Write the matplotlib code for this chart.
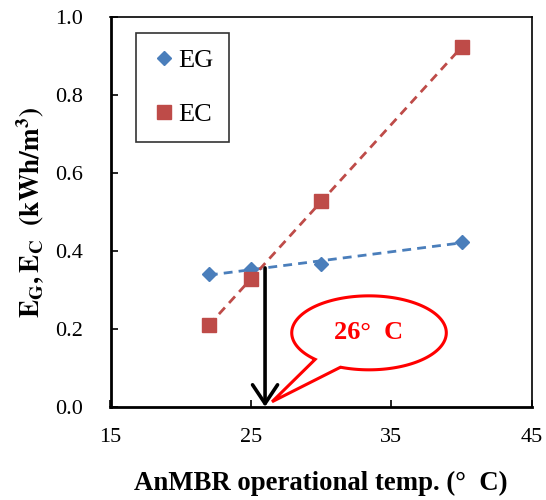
import numpy as np
import matplotlib
matplotlib.use("Agg")
import matplotlib.pyplot as plt
from matplotlib.patches import Polygon

plt.rcParams["font.family"] = ["Liberation Serif", "DejaVu Serif"]
plt.rcParams["mathtext.fontset"] = "stix"

# operating temperatures (°C) and specific energy values (kWh/m3)
temps = [22, 25, 30, 40]
eg_values = [0.34, 0.355, 0.368, 0.424]
ec_values = [0.209, 0.329, 0.528, 0.924]
crossover_temp = 26
crossover_label = "26°  C"

x_ticks = [15, 25, 35, 45]
y_ticks = [0.0, 0.2, 0.4, 0.6, 0.8, 1.0]

blue = "#4a7ebb"
red = "#be4b48"

fig = plt.figure(figsize=(5.46, 5.0), dpi=100)
ax = fig.add_axes([110.5 / 546, 1 - 406.8 / 500, (532 - 110.5) / 546, (406.8 - 17.5) / 500])

# linear trend lines over the measured range
t = np.array(temps, dtype=float)
xs = np.array([t.min(), t.max()])
for vals, col in ((eg_values, blue), (ec_values, red)):
    k, b = np.polyfit(t, vals, 1)
    ax.plot(xs, k * xs + b, ls=(0, (3.2, 2.2)), color=col, lw=2.0, zorder=2)

ax.plot(temps, eg_values, ls="none", marker="D", ms=6.8, color=blue, label="EG", zorder=3)
ax.plot(temps, ec_values, ls="none", marker="s", ms=9.6, color=red, label="EC", zorder=3)

# arrow from the crossing point down to the axis
k1, b1 = np.polyfit(t, eg_values, 1)
y_cross = k1 * crossover_temp + b1
ax.annotate("", xy=(crossover_temp, 0.0), xytext=(crossover_temp, y_cross),
            arrowprops=dict(arrowstyle="->,head_length=0.45,head_width=0.3",
                            color="black", lw=2.6,
                            mutation_scale=30, shrinkA=0, shrinkB=0),
            zorder=4)

# speech-bubble callout
cx, cy = 33.4, 0.19
rx, ry = 5.5, 0.095
theta = np.linspace(0, 2 * np.pi, 720)
ex = cx + rx * np.cos(theta)
ey = cy + ry * np.sin(theta)
# leave a gap in the outline for the tail
a1, a2 = np.deg2rad(226), np.deg2rad(248)
start = np.searchsorted(theta, a2)
order = np.r_[np.arange(start, len(theta)), np.arange(0, np.searchsorted(theta, a1))]
pts = np.column_stack([ex[order], ey[order]])
tip = np.array([[26.5, 0.013]])
bubble = np.vstack([pts, tip])
ax.add_patch(Polygon(bubble, closed=True, facecolor="white", edgecolor="#ff0000",
                     lw=2.2, joinstyle="miter", zorder=5, clip_on=False))
ax.text(cx, cy, crossover_label, color="#ff0000", fontsize=19, fontweight="bold",
        ha="center", va="center", zorder=6)

ax.set_xlim(15, 45)
ax.set_ylim(0, 1.0)
ax.set_xticks(x_ticks)
ax.set_yticks(y_ticks)
ax.set_yticklabels([f"{v:.1f}" for v in y_ticks])
ax.tick_params(direction="in", length=5, width=1.2, labelsize=16)
ax.tick_params(axis="y", pad=20)
ax.tick_params(axis="x", pad=15.5)
for side in ("left", "bottom"):
    ax.spines[side].set_linewidth(2.0)
for side in ("top", "right"):
    ax.spines[side].set_linewidth(1.2)

ax.set_xlabel("AnMBR operational temp. (°  C)", fontsize=19.3, fontweight="bold", labelpad=17)
ax.set_ylabel(r"$\mathbf{E_G, E_C}$  $\mathbf{(kWh/m^3)}$", fontsize=19.6, labelpad=6)

leg = ax.legend(loc="upper left", bbox_to_anchor=(0.0605, 0.961), fontsize=19,
                frameon=True, fancybox=False, edgecolor="black", handlelength=0.9,
                handletextpad=0.1, labelspacing=1.15, borderpad=0.6, markerscale=1.0,
                borderaxespad=0)
leg.get_frame().set_linewidth(1.2)

fig.savefig("out.png", dpi=100)
